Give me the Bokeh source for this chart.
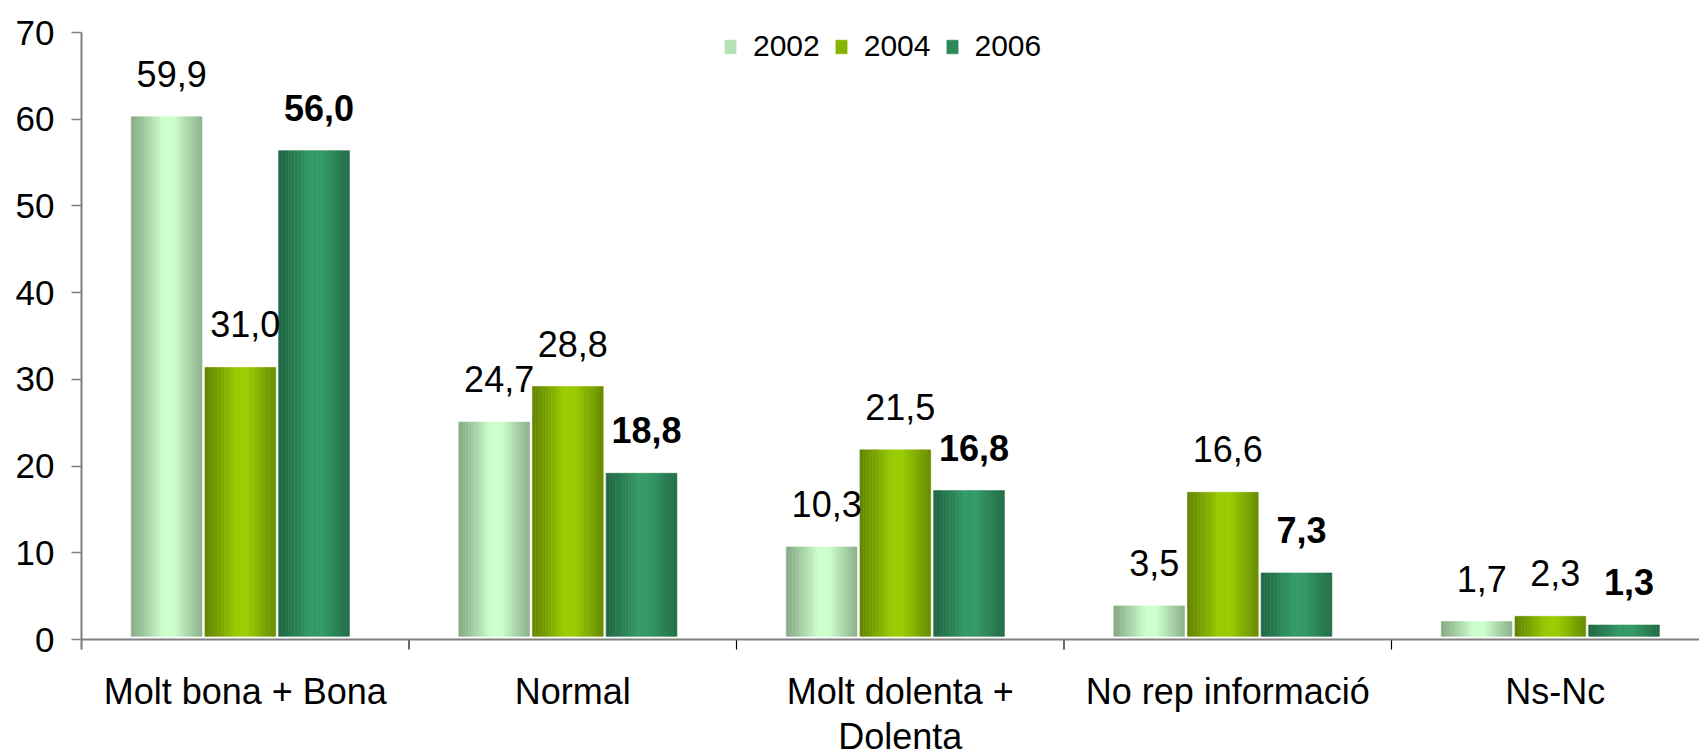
import numpy as np
from bokeh.plotting import figure
from bokeh.models import FixedTicker, Legend, LegendItem, ColumnDataSource, Range1d, Span
from bokeh.core.properties import value
from bokeh.embed import file_html
from bokeh.resources import INLINE

# ---------------- data ----------------
categories = ["Molt bona + Bona", "Normal", "Molt dolenta +\nDolenta", "No rep informació", "Ns-Nc"]
years = ["2002", "2004", "2006"]
v2002 = [59.9, 24.7, 10.3, 3.5, 1.7]
v2004 = [31.0, 28.8, 21.5, 16.6, 2.3]
v2006 = [56.0, 18.8, 16.8, 7.3, 1.3]
y_ticks = [0, 10, 20, 30, 40, 50, 60, 70]

# ---------------- styles / layout ----------------
edge_colors = ["#8aae8a", "#668800", "#216a45"]
center_colors = ["#ccffcc", "#99cc00", "#339966"]
label_styles = ["normal", "normal", "bold"]
FONT = "Liberation Sans"
offsets = [-0.24, -0.015, 0.21]
BAR_W = 0.216
BASE = 0.37
NSTRIP = 22
CAT_PX = 327.5
W, H = 1699, 755
BL = 81
TOP_PX, ZERO_PX = 32, 639          # pixel rows of the top tick and of the zero line
PPU = (ZERO_PX - TOP_PX) / y_ticks[-1]   # pixels per unit
TICK_PX = 10

def hex2rgb(h):
    h = h.lstrip("#")
    return np.array([int(h[i:i + 2], 16) for i in (0, 2, 4)], dtype=float)

def mix(a, b, t):
    c = hex2rgb(a) * (1 - t) + hex2rgb(b) * t
    return "#%02x%02x%02x" % tuple(int(round(x)) for x in c)

def profile(s):
    d = abs(s - 0.53)
    t = min(max(1 - (d - 0.08) / 0.42, 0.0), 1.0)
    return t ** 1.1

y_start = -(H - ZERO_PX) / PPU
y_end = y_ticks[-1] + TOP_PX / PPU
p = figure(width=W, height=H, output_backend="svg", toolbar_location=None,
           x_range=Range1d(0, (W - BL) / CAT_PX), y_range=Range1d(y_start, y_end),
           min_border_left=BL, min_border_right=0, min_border_top=0, min_border_bottom=0)
p.outline_line_color = None
p.xgrid.visible = False
p.ygrid.visible = False
p.xaxis.visible = False
p.background_fill_color = "white"

series = [v2002, v2004, v2006]
bar_renderers = []
for si, vals in enumerate(series):
    L, R, T, B, C = [], [], [], [], []
    for ci, v in enumerate(vals):
        xc = ci + 0.5 + offsets[si]
        x0 = xc - BAR_W / 2
        for k in range(NSTRIP):
            s = (k + 0.5) / NSTRIP
            L.append(x0 + k * BAR_W / NSTRIP)
            R.append(x0 + (k + 1) * BAR_W / NSTRIP)
            B.append(BASE)
            T.append(v + BASE)
            C.append(mix(edge_colors[si], center_colors[si], profile(s)))
    src = ColumnDataSource(dict(left=L, right=R, top=T, bottom=B, color=C))
    r = p.quad(left="left", right="right", top="top", bottom="bottom", source=src,
               fill_color="color", line_color="color", line_width=0.6)
    bar_renderers.append(r)

# value labels
for si, vals in enumerate(series):
    xs = [ci + 0.5 + offsets[si] for ci in range(len(vals))]
    ys = [v + BASE for v in vals]
    txt = [("%.1f" % v).replace(".", ",") for v in vals]
    src = ColumnDataSource(dict(x=xs, y=ys, t=txt))
    p.text(x="x", y="y", text="t", source=src, x_offset=5, y_offset=-43,
           text_align="center", text_baseline="alphabetic",
           text_font=value(FONT), text_font_size="36px",
           text_font_style=label_styles[si], text_color="black")

# category axis (drawn inside the frame so the two-line label can reach the bottom)
p.add_layout(Span(location=0, dimension="width", line_color="#808080", line_width=2))
bounds_x = list(range(len(categories) + 1))
p.segment(x0=bounds_x, x1=bounds_x, y0=[0] * len(bounds_x),
          y1=[-TICK_PX / PPU] * len(bounds_x), line_color="black", line_width=1.2)
centers = [i + 0.5 for i in range(len(categories))]
p.text(x=centers, y=[0] * len(centers), text=categories, y_offset=31,
       text_align="center", text_baseline="top", text_line_height=1.12,
       text_font=value(FONT), text_font_size="36px", text_color="black")

# legend (glyph colour taken from a mid strip of each series)
items = [LegendItem(label=yr, renderers=[bar_renderers[si]], index=NSTRIP // 2 + 5)
         for si, yr in enumerate(years)]
legend = Legend(items=items, orientation="horizontal", location=(642, H - 63),
                padding=0, margin=0, spacing=14, label_standoff=16,
                glyph_width=14, glyph_height=17, label_height=17,
                label_text_font_size="30px", label_text_font=FONT, label_text_color="black",
                border_line_color=None, background_fill_alpha=0)
p.add_layout(legend)

# value axis
yax = p.yaxis[0]
yax.ticker = FixedTicker(ticks=y_ticks, minor_ticks=[])
yax.bounds = (-TICK_PX / PPU, y_ticks[-1])
yax.axis_line_color = "#808080"
yax.axis_line_width = 2
yax.major_tick_line_color = "#808080"
yax.major_tick_line_width = 1.5
yax.major_tick_out = 10
yax.major_tick_in = 0
yax.minor_tick_line_color = None
yax.major_label_text_font = FONT
yax.major_label_text_font_size = "35px"
yax.major_label_text_color = "black"
yax.major_label_standoff = 17

open("out.html", "w").write(file_html(p, INLINE))
